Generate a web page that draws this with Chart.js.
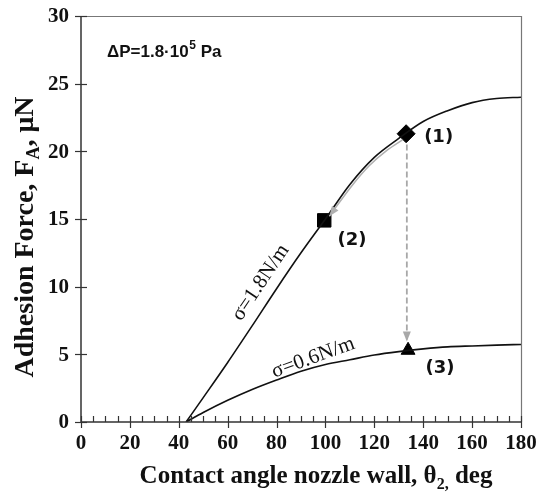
<!DOCTYPE html>
<html>
<head>
<meta charset="utf-8">
<script src="https://cdn.jsdelivr.net/npm/chart.js@4"></script>
<style>
  html, body { margin: 0; padding: 0; background: #fff; }
  #wrap { width: 537px; height: 495px; }
</style>
</head>
<body>
<div id="wrap"><canvas id="chart" width="537" height="495"></canvas></div>
<script>
(function() {
    'use strict';

    // Data
    const angleUpper = [43, 50, 60, 70, 80, 90, 100, 110, 120, 130, 140, 150, 160, 170, 180];
    const forceUpper = [0, 1.8, 4.4, 7.1, 9.85, 12.5, 15.0, 17.55, 19.55, 20.95, 22.2, 23.0, 23.6, 23.9, 24.0];
    const angleLower = [43, 50, 60, 70, 80, 90, 100, 110, 120, 130, 140, 150, 160, 170, 180];
    const forceLower = [0, 0.7, 1.6, 2.4, 3.1, 3.75, 4.25, 4.6, 4.95, 5.2, 5.4, 5.55, 5.62, 5.68, 5.73];

    const point1 = { x: 133, y: 21.3 };   // diamond
    const point2 = { x: 99.5, y: 14.9 };  // square
    const point3 = { x: 133.8, y: 5.3 };  // triangle

    // grey arrow (1) -> (2) along the upper curve
    const angleSlide = [131.5, 125, 118, 111, 104, 101.6];
    const forceSlide = [20.85, 20.05, 18.95, 17.5, 15.8, 15.2];
    // dashed drop (1) -> (3)
    const angleDrop = [133.3, 133.3];
    const forceDrop = [20.5, 5.95];

    const xTicks = [0, 20, 40, 60, 80, 100, 120, 140, 160, 180];
    const yTicks = [0, 5, 10, 15, 20, 25, 30];

    const serif = "'Liberation Serif', 'Times New Roman', serif";
    const sans = "'Liberation Sans', Arial, sans-serif";
    const labelFont = "'DejaVu Sans', sans-serif";

    function pairs(xs, ys) {
        return xs.map((x, i) => ({ x: x, y: ys[i] }));
    }

    function arrowHead(ctx, x0, y0, x1, y1, color) {
        const a = Math.atan2(y1 - y0, x1 - x0);
        const len = 10, half = 4;
        ctx.save();
        ctx.fillStyle = color;
        ctx.beginPath();
        ctx.moveTo(x1, y1);
        ctx.lineTo(x1 - len * Math.cos(a) + half * Math.sin(a), y1 - len * Math.sin(a) - half * Math.cos(a));
        ctx.lineTo(x1 - len * Math.cos(a) - half * Math.sin(a), y1 - len * Math.sin(a) + half * Math.cos(a));
        ctx.closePath();
        ctx.fill();
        ctx.restore();
    }

    // text with subscripts: parts = [[text, isSub], ...]
    function richText(ctx, parts, size, cx, cy) {
        const big = 'bold ' + size + 'px ' + serif;
        const small = 'bold ' + Math.round(size * 0.65) + 'px ' + serif;
        let total = 0;
        parts.forEach(p => { ctx.font = p[1] ? small : big; total += ctx.measureText(p[0]).width; });
        let x = cx - total / 2;
        ctx.textBaseline = 'middle';
        ctx.textAlign = 'left';
        parts.forEach(p => {
            ctx.font = p[1] ? small : big;
            ctx.fillText(p[0], x, p[1] ? cy + size * 0.3 : cy);
            x += ctx.measureText(p[0]).width;
        });
    }

    const decor = {
        id: 'decor',
        afterDatasetsDraw(chart) {
            const ctx = chart.ctx;
            const a = chart.chartArea;
            const xs = chart.scales.x, ys = chart.scales.y;

            // frame
            ctx.save();
            ctx.strokeStyle = '#777';
            ctx.lineWidth = 1.2;
            ctx.beginPath();
            ctx.moveTo(a.left, a.top + 0.5);
            ctx.lineTo(a.right + 0.5, a.top + 0.5);
            ctx.lineTo(a.right + 0.5, a.bottom);
            ctx.stroke();
            ctx.strokeStyle = '#333';
            ctx.lineWidth = 1.5;
            ctx.beginPath();
            ctx.moveTo(a.left, a.top);
            ctx.lineTo(a.left, a.bottom);
            ctx.lineTo(a.right, a.bottom);
            ctx.stroke();

            // x ticks: major cross the axis, minor above
            ctx.lineWidth = 1.2;
            for (let v = 0; v <= 180; v += 5) {
                const px = Math.round(xs.getPixelForValue(v)) + 0.5;
                const major = v % 20 === 0;
                ctx.beginPath();
                ctx.moveTo(px, a.bottom - 6);
                ctx.lineTo(px, a.bottom + (major ? 6 : 0));
                ctx.stroke();
            }
            // y ticks
            yTicks.forEach(v => {
                const py = Math.round(ys.getPixelForValue(v)) + 0.5;
                ctx.beginPath();
                ctx.moveTo(a.left - 6, py);
                ctx.lineTo(a.left + 6, py);
                ctx.stroke();
            });

            // tick labels
            ctx.fillStyle = '#111';
            ctx.font = 'bold 21px ' + serif;
            ctx.textBaseline = 'middle';
            ctx.textAlign = 'center';
            xTicks.forEach(v => ctx.fillText(String(v), xs.getPixelForValue(v), a.bottom + 22));
            ctx.textAlign = 'right';
            yTicks.forEach(v => ctx.fillText(String(v), a.left - 12, ys.getPixelForValue(v) + 1));
            ctx.restore();

            // arrowheads
            const sx = xs.getPixelForValue(angleSlide[angleSlide.length - 2]);
            const sy = ys.getPixelForValue(forceSlide[forceSlide.length - 2]);
            const ex = xs.getPixelForValue(angleSlide[angleSlide.length - 1]);
            const ey = ys.getPixelForValue(forceSlide[forceSlide.length - 1]);
            arrowHead(ctx, sx, sy, ex, ey, '#b0b0b0');
            arrowHead(ctx, xs.getPixelForValue(angleDrop[0]), ys.getPixelForValue(forceDrop[0]),
                xs.getPixelForValue(angleDrop[1]), ys.getPixelForValue(forceDrop[1]), '#a8a8a8');

            // point labels
            ctx.save();
            ctx.fillStyle = '#111';
            ctx.font = 'bold 18px ' + labelFont;
            ctx.textAlign = 'center';
            ctx.textBaseline = 'middle';
            ctx.fillText('(1)', xs.getPixelForValue(146.3), ys.getPixelForValue(21.05));
            ctx.fillText('(2)', xs.getPixelForValue(110.9), ys.getPixelForValue(13.45));
            ctx.fillText('(3)', xs.getPixelForValue(146.9), ys.getPixelForValue(3.97));

            // curve labels
            ctx.font = '21px ' + serif;
            ctx.save();
            ctx.translate(xs.getPixelForValue(73.5), ys.getPixelForValue(10.3));
            ctx.rotate(-56 * Math.PI / 180);
            ctx.fillText('\u03c3=1.8N/m', 0, 0);
            ctx.restore();
            ctx.save();
            ctx.translate(xs.getPixelForValue(95), ys.getPixelForValue(4.75));
            ctx.rotate(-20 * Math.PI / 180);
            ctx.fillText('\u03c3=0.6N/m', 0, 0);
            ctx.restore();

            // pressure note
            ctx.textAlign = 'left';
            ctx.font = 'bold 17px ' + sans;
            ctx.fillText('\u0394P=1.8\u00b710', 107, 52);
            const w = ctx.measureText('\u0394P=1.8\u00b710').width;
            ctx.font = 'bold 12px ' + sans;
            ctx.fillText('5', 107 + w + 0.5, 46);
            ctx.font = 'bold 17px ' + sans;
            ctx.fillText('Pa', 107 + w + 12, 52);

            // axis titles
            richText(ctx, [['Contact angle nozzle wall, \u03b8', false], ['2,', true], [' deg', false]], 25, 316, 477);
            ctx.save();
            ctx.translate(26, 237);
            ctx.rotate(-Math.PI / 2);
            richText(ctx, [['Adhesion Force, F', false], ['A', true], [', \u03bcN', false]], 28, 0, 0);
            ctx.restore();
            ctx.restore();
        }
    };

    const ctx = document.getElementById('chart').getContext('2d');
    new Chart(ctx, {
        type: 'scatter',
        data: {
            datasets: [
                {
                    data: pairs(angleUpper, forceUpper),
                    showLine: true, borderColor: '#111', borderWidth: 1.6,
                    pointRadius: 0, cubicInterpolationMode: 'monotone'
                },
                {
                    data: pairs(angleLower, forceLower),
                    showLine: true, borderColor: '#111', borderWidth: 1.6,
                    pointRadius: 0, cubicInterpolationMode: 'monotone'
                },
                {
                    data: pairs(angleSlide, forceSlide),
                    showLine: true, borderColor: '#b0b0b0', borderWidth: 1.5,
                    pointRadius: 0, cubicInterpolationMode: 'monotone'
                },
                {
                    data: pairs(angleDrop, forceDrop),
                    showLine: true, borderColor: '#a8a8a8', borderWidth: 1.8,
                    borderDash: [6, 3], pointRadius: 0
                },
                {
                    data: [point1], pointStyle: 'rectRot', pointRadius: 9,
                    backgroundColor: '#000', borderColor: '#000'
                },
                {
                    data: [point2], pointStyle: 'rect', pointRadius: 9.5,
                    backgroundColor: '#000', borderColor: '#000'
                },
                {
                    data: [point3], pointStyle: 'triangle', pointRadius: 8,
                    backgroundColor: '#000', borderColor: '#000'
                }
            ]
        },
        options: {
            responsive: false,
            animation: false,
            layout: { padding: { top: 16, right: 16, left: 0, bottom: 0 } },
            plugins: { legend: { display: false }, tooltip: { enabled: false } },
            scales: {
                x: {
                    type: 'linear', min: 0, max: 180,
                    afterFit: s => { s.height = 73; },
                    grid: { display: false, drawTicks: false },
                    border: { display: false },
                    ticks: { display: false }
                },
                y: {
                    type: 'linear', min: 0, max: 30,
                    afterFit: s => { s.width = 81; },
                    grid: { display: false, drawTicks: false },
                    border: { display: false },
                    ticks: { display: false }
                }
            }
        },
        plugins: [decor]
    });
})();
</script>
</body>
</html>
